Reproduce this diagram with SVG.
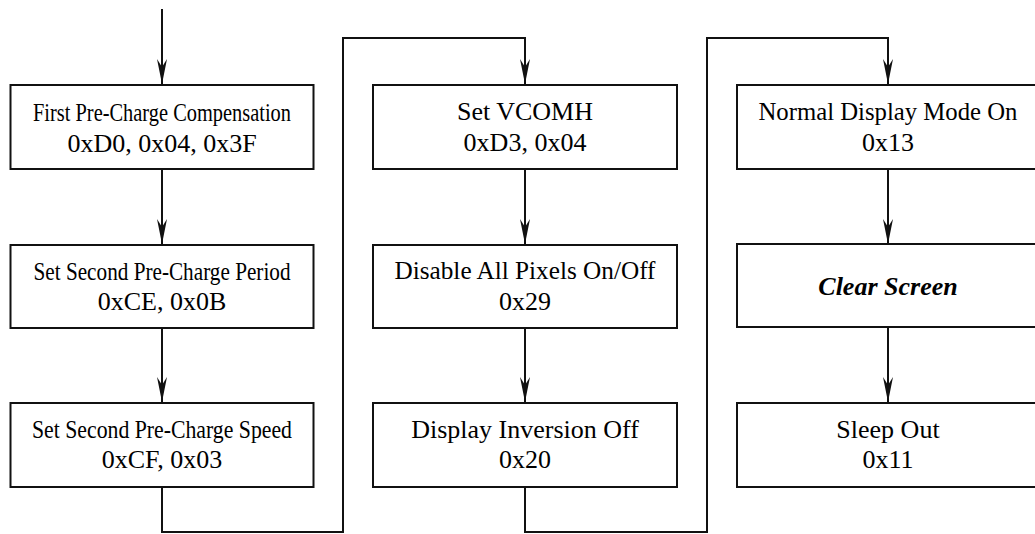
<svg xmlns="http://www.w3.org/2000/svg" width="1035" height="534" viewBox="0 0 1035 534">
<style>
.box{fill:#fff;stroke:#111;stroke-width:2}
.ln{fill:none;stroke:#111;stroke-width:2}
.t{font-family:'Liberation Serif','Times New Roman',Times,Tinos,'DejaVu Serif',serif;font-size:26px;fill:#000;text-anchor:middle}
.bi{font-weight:bold;font-style:italic}
</style>
<defs>
<marker id="ah" markerUnits="userSpaceOnUse" markerWidth="30" markerHeight="14" viewBox="-26 -7 28 14" refX="0" refY="0" orient="auto">
<path d="M0,0 L-25,-5 L-17,0 L-25,5 Z" fill="#111"/>
</marker>
</defs>
<rect width="1035" height="534" fill="#fff"/>
<g id="connectors">
<path class="ln" d="M162,9 V84" marker-end="url(#ah)"/>
<path class="ln" d="M162,169 V244" marker-end="url(#ah)"/>
<path class="ln" d="M162,328 V402" marker-end="url(#ah)"/>
<path class="ln" d="M162,487 V532 H343 V38 H525 V84" marker-end="url(#ah)"/>
<path class="ln" d="M525,169 V244" marker-end="url(#ah)"/>
<path class="ln" d="M525,328 V402" marker-end="url(#ah)"/>
<path class="ln" d="M525,487 V532 H707 V38 H888 V84" marker-end="url(#ah)"/>
<path class="ln" d="M888,169 V244" marker-end="url(#ah)"/>
<path class="ln" d="M888,327 V402" marker-end="url(#ah)"/>
</g>
<g id="n1"><rect class="box" x="10.5" y="85" width="303" height="84"/>
<text class="t" font-family="Liberation Serif" x="162" y="121" textLength="258" lengthAdjust="spacingAndGlyphs">First Pre-Charge Compensation</text>
<text class="t" x="162" y="152">0xD0, 0x04, 0x3F</text></g>
<g id="n2"><rect class="box" x="10.5" y="245" width="303" height="83"/>
<text class="t" x="162" y="280" textLength="257" lengthAdjust="spacingAndGlyphs">Set Second Pre-Charge Period</text>
<text class="t" x="162" y="310">0xCE, 0x0B</text></g>
<g id="n3"><rect class="box" x="10.5" y="403" width="303" height="84"/>
<text class="t" x="162" y="438" textLength="260" lengthAdjust="spacingAndGlyphs">Set Second Pre-Charge Speed</text>
<text class="t" x="162" y="468">0xCF, 0x03</text></g>
<g id="n4"><rect class="box" x="373" y="85" width="304" height="84"/>
<text class="t" x="525" y="120">Set VCOMH</text>
<text class="t" x="525" y="151">0xD3, 0x04</text></g>
<g id="n5"><rect class="box" x="373" y="245" width="304" height="83"/>
<text class="t" x="525" y="279" textLength="261" lengthAdjust="spacingAndGlyphs">Disable All Pixels On/Off</text>
<text class="t" x="525" y="310">0x29</text></g>
<g id="n6"><rect class="box" x="373" y="403" width="304" height="84"/>
<text class="t" x="525" y="438">Display Inversion Off</text>
<text class="t" x="525" y="468">0x20</text></g>
<g id="n7"><rect class="box" x="737" y="85" width="302" height="84"/>
<text class="t" x="888" y="120" textLength="259" lengthAdjust="spacingAndGlyphs">Normal Display Mode On</text>
<text class="t" x="888" y="151">0x13</text></g>
<g id="n8"><rect class="box" x="737" y="244" width="302" height="83"/>
<text class="t bi" x="888" y="295">Clear Screen</text></g>
<g id="n9"><rect class="box" x="737" y="403" width="302" height="84"/>
<text class="t" x="888" y="438">Sleep Out</text>
<text class="t" x="888" y="468">0x11</text></g>
</svg>
